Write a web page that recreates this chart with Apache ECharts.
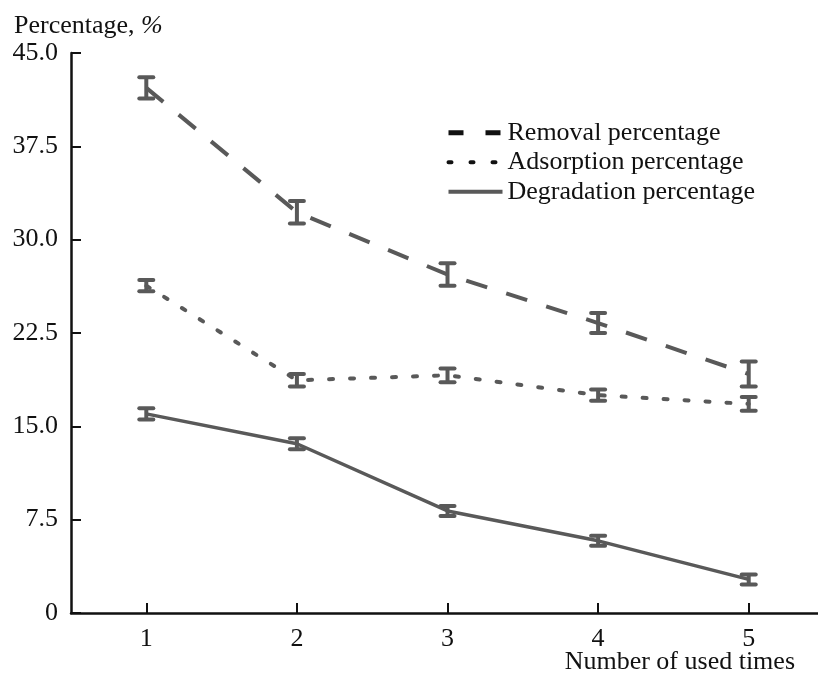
<!DOCTYPE html>
<html>
<head>
<meta charset="utf-8">
<script src="https://cdn.jsdelivr.net/npm/echarts@6/dist/echarts.min.js"></script>
<style>html,body{margin:0;padding:0;background:#fff;}#c{width:818px;height:673px;}</style>
</head>
<body>
<div id="c"></div>
<script>
var xValues = [1, 2, 3, 4, 5];
var removal = [42.2, 32.2, 27.2, 23.3, 19.2];
var removalErr = [0.85, 0.9, 0.9, 0.8, 1.0];
var adsorption = [26.3, 18.7, 19.1, 17.5, 16.8];
var adsorptionErr = [0.45, 0.5, 0.55, 0.45, 0.55];
var degradation = [16.0, 13.6, 8.2, 5.8, 2.7];
var degradationErr = [0.45, 0.45, 0.4, 0.4, 0.4];
var yTicks = [0, 7.5, 15, 22.5, 30, 37.5, 45];
var names = ['Removal percentage', 'Adsorption percentage', 'Degradation percentage'];

var FONT = '"Liberation Serif", "DejaVu Serif", serif';
var GRAY = '#595959';

function pts(vals) { return xValues.map(function (x, i) { return [x, vals[i]]; }); }
function errData(vals, errs) { return xValues.map(function (x, i) { return [x, vals[i] - errs[i], vals[i] + errs[i]]; }); }

function errSeries(vals, errs) {
  return {
    type: 'custom',
    data: errData(vals, errs),
    z: 5,
    renderItem: function (params, api) {
      var x = api.value(0);
      var lo = api.coord([x, api.value(1)]);
      var hi = api.coord([x, api.value(2)]);
      var w = 7;
      var st = { stroke: GRAY, lineWidth: 4, lineCap: 'round' };
      return {
        type: 'group',
        children: [
          { type: 'line', shape: { x1: lo[0], y1: lo[1], x2: hi[0], y2: hi[1] }, style: { stroke: GRAY, lineWidth: 4 } },
          { type: 'line', shape: { x1: lo[0] - w, y1: lo[1], x2: lo[0] + w, y2: lo[1] }, style: st },
          { type: 'line', shape: { x1: hi[0] - w, y1: hi[1], x2: hi[0] + w, y2: hi[1] }, style: st }
        ]
      };
    }
  };
}

var hidden = { opacity: 0, color: 'transparent', borderWidth: 0 };

var chart = echarts.init(document.getElementById('c'));
chart.setOption({
  animation: false,
  backgroundColor: '#fff',
  color: [GRAY, GRAY, GRAY],
  grid: { left: 71, right: 0, top: 53, bottom: 60, containLabel: false, outerBoundsMode: 'none' },
  legend: {
    orient: 'vertical',
    left: 441,
    top: 113,
    itemWidth: 54,
    itemHeight: 14,
    itemGap: 0,
    textStyle: { fontFamily: FONT, fontSize: 26, color: '#111', lineHeight: 29.5 },
    data: [
      { name: names[0], itemStyle: hidden, lineStyle: { color: '#111', width: 5, type: [15, 22] } },
      { name: names[1], itemStyle: hidden, lineStyle: { color: '#111', width: 4, type: [3, 19] } },
      { name: names[2], itemStyle: hidden, lineStyle: { color: GRAY, width: 4, type: 'solid' } }
    ]
  },
  xAxis: {
    type: 'value',
    min: 0.5,
    max: 5.46,
    name: 'Number of used times',
    nameLocation: 'end',
    nameGap: 0,
    nameMoveOverlap: false,
    nameTextStyle: { fontFamily: FONT, fontSize: 26, color: '#111', align: 'right', verticalAlign: 'top', padding: [36, 23, 0, 0] },
    axisLine: { lineStyle: { color: '#111', width: 2.5 } },
    axisTick: { show: true, inside: true, length: 10, lineStyle: { color: '#111', width: 2 }, customValues: xValues },
    axisLabel: { fontFamily: FONT, fontSize: 26, color: '#111', margin: 13, customValues: xValues },
    splitLine: { show: false }
  },
  yAxis: {
    type: 'value',
    min: 0,
    max: 45,
    interval: 7.5,
    name: '{a|Percentage, }{b|%}',
    nameLocation: 'end',
    nameGap: 14,
    nameMoveOverlap: false,
    nameTextStyle: {
      align: 'left', padding: [0, 0, 0, -57],
      rich: {
        a: { fontFamily: FONT, fontSize: 26, color: '#111' },
        b: { fontFamily: FONT, fontSize: 26, color: '#111', fontStyle: 'italic' }
      }
    },
    axisLine: { show: true, lineStyle: { color: '#111', width: 2.5 } },
    axisTick: { show: true, inside: true, length: 10, lineStyle: { color: '#111', width: 2 } },
    axisLabel: {
      fontFamily: FONT, fontSize: 26, color: '#111', margin: 13,
      formatter: function (v) { return v === 0 ? '0' : v.toFixed(1); }
    },
    splitLine: { show: false }
  },
  series: [
    { name: names[0], type: 'line', data: pts(removal), symbol: 'none', z: 3,
      itemStyle: { color: GRAY },
      lineStyle: { color: GRAY, width: 4, type: [22, 20] } },
    { name: names[1], type: 'line', data: pts(adsorption), symbol: 'none', z: 3,
      itemStyle: { color: GRAY },
      lineStyle: { color: GRAY, width: 4, type: [4, 17], cap: 'round' } },
    { name: names[2], type: 'line', data: pts(degradation), symbol: 'none', z: 3,
      itemStyle: { color: GRAY },
      lineStyle: { color: GRAY, width: 3.5, type: 'solid' } },
    errSeries(removal, removalErr),
    errSeries(adsorption, adsorptionErr),
    errSeries(degradation, degradationErr)
  ]
});
</script>
</body>
</html>
